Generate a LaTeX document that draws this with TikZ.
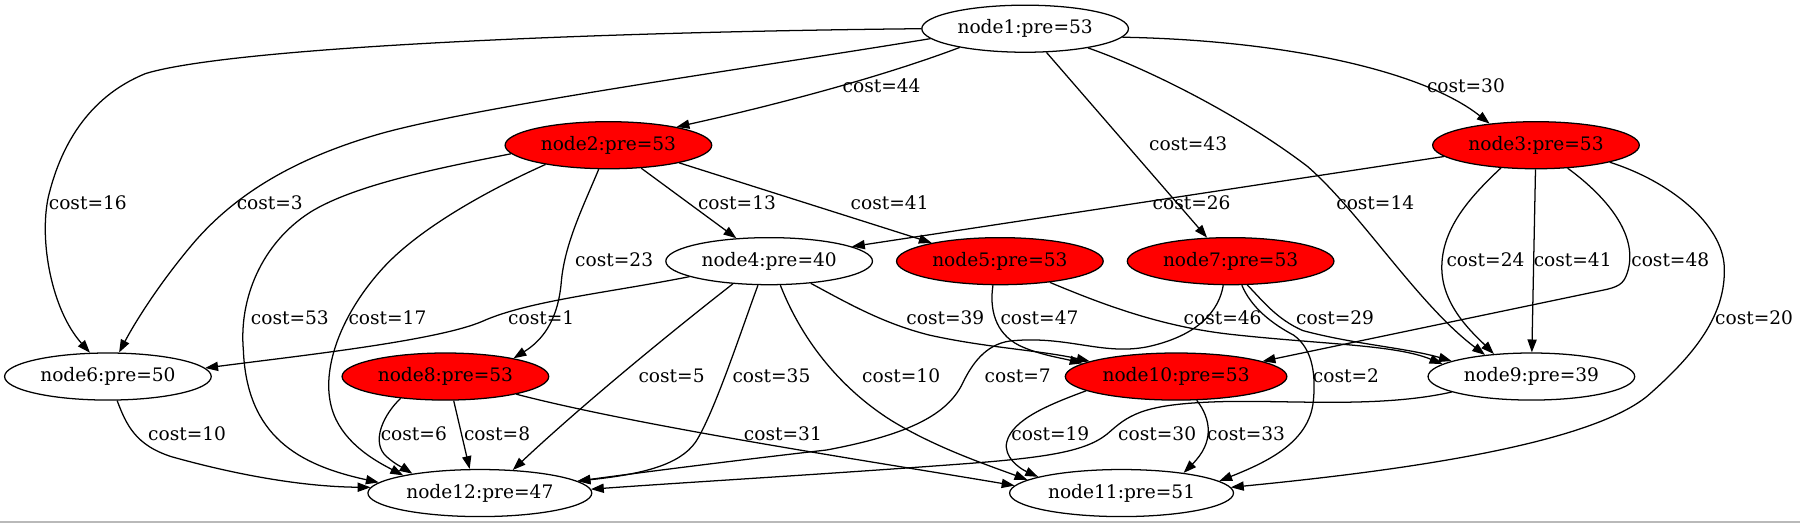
\documentclass[tikz,border=0pt]{standalone}
\usepackage{fontspec}
\usepackage{tikz}
\usetikzlibrary{shapes.geometric, arrows.meta}
\newfontfamily\gvserif{DejaVu Serif}
\newcommand{\gvfont}{\gvserif\fontsize{8.1pt}{9.7pt}\selectfont}
\tikzstyle{vert} = [ellipse, minimum width=90pt, minimum height=20.5pt, inner sep=0pt, text centered, draw=black, line width=0.55pt, font=\gvfont]
\tikzstyle{hot} = [vert, fill=red]
\tikzstyle{wide} = [minimum width=97.5pt]
\tikzstyle{cost} = [inner sep=0pt, font=\gvfont]
\tikzstyle{arrow} = [line width=0.55pt, -{Triangle[length=5.6pt, width=4pt]}]

\begin{document}
\begin{tikzpicture}[x=0.5pt, y=-0.5pt]
        \useasboundingbox (0,0) rectangle (1568,456);
        \node (n1) [vert] at (893,25) {node1:pre=53};
        \node (n2) [hot] at (530,126.5) {node2:pre=53};
        \node (n3) [hot] at (1338,126.5) {node3:pre=53};
        \node (n4) [vert] at (670,227.5) {node4:pre=40};
        \node (n5) [hot] at (871,227.5) {node5:pre=53};
        \node (n7) [hot] at (1072,227.5) {node7:pre=53};
        \node (n6) [vert] at (94,328) {node6:pre=50};
        \node (n8) [hot] at (388,328) {node8:pre=53};
        \node (n10) [hot, minimum width=96.5pt] at (1024.5,328) {node10:pre=53};
        \node (n9) [vert] at (1334,328) {node9:pre=39};
        \node (n12) [vert, wide] at (418,429.5) {node12:pre=47};
        \node (n11) [vert, wide] at (977,429.5) {node11:pre=51};

        \node (c16) [cost] at (76.5,176.5) {cost=16};
        \node (c3) [cost] at (235,176.5) {cost=3};
        \node (c44) [cost] at (768,75) {cost=44};
        \node (c43) [cost] at (1035,125.5) {cost=43};
        \node (c14) [cost] at (1198,176.5) {cost=14};
        \node (c30a) [cost] at (1277,75) {cost=30};
        \node (c53) [cost] at (252.5,277) {cost=53};
        \node (c17) [cost] at (337.5,277) {cost=17};
        \node (c23) [cost] at (535,226.5) {cost=23};
        \node (c13) [cost] at (642,176.5) {cost=13};
        \node (c41a) [cost] at (775,176.5) {cost=41};
        \node (c26) [cost] at (1038,176.5) {cost=26};
        \node (c24) [cost] at (1294,226.5) {cost=24};
        \node (c41b) [cost] at (1370,226.5) {cost=41};
        \node (c48) [cost] at (1455,226.5) {cost=48};
        \node (c20) [cost] at (1528,277) {cost=20};
        \node (c1) [cost] at (471.5,277) {cost=1};
        \node (c5) [cost] at (585,327.5) {cost=5};
        \node (c35) [cost] at (672,327.5) {cost=35};
        \node (c10a) [cost] at (785,327.5) {cost=10};
        \node (c39) [cost] at (823.5,277) {cost=39};
        \node (c47) [cost] at (905.5,277) {cost=47};
        \node (c46) [cost] at (1065,277) {cost=46};
        \node (c7) [cost] at (886.5,327.5) {cost=7};
        \node (c2) [cost] at (1172.5,327.5) {cost=2};
        \node (c29) [cost] at (1163,277) {cost=29};
        \node (c10b) [cost] at (163,377.5) {cost=10};
        \node (c6) [cost] at (360.5,377.5) {cost=6};
        \node (c8) [cost] at (433,377.5) {cost=8};
        \node (c31) [cost] at (682,377.5) {cost=31};
        \node (c19) [cost] at (915,377.5) {cost=19};
        \node (c33) [cost] at (1085.5,377.5) {cost=33};
        \node (c30b) [cost] at (1008,377.5) {cost=30};

        \draw [arrow] (n1.180) .. controls (500,28) and (200,42) .. (127,64) .. controls (75,85) and (52,130) .. (42,172) .. controls (34,210) and (45,270) .. (n6.127);
        \draw [arrow] (n1.186) .. controls (650,60) and (420,92) .. (333,116) .. controls (255,138) and (205,170) .. (170,210) .. controls (140,245) and (118,280) .. (n6.65);
        \draw [arrow] (n1.196) .. controls (760,70) and (660,95) .. (n2.15);
        \draw [arrow] (n1.312) -- (n7.135);
        \draw [arrow] (n1.343) .. controls (1000,60) and (1080,100) .. (1139,145) .. controls (1185,185) and (1235,265) .. (n9.155);
        \draw [arrow] (n1.355) .. controls (1120,35) and (1240,62) .. (n3.155);

        \draw [arrow] (n2.185) .. controls (390,145) and (310,160) .. (270,185) .. controls (228,212) and (208,260) .. (212,305) .. controls (215,380) and (260,405) .. (n12.174);
        \draw [arrow] (n2.197) .. controls (420,168) and (365,200) .. (335,232) .. controls (295,275) and (275,330) .. (293,366) .. controls (305,390) and (330,403) .. (n12.167);
        \draw [arrow] (n2.248) .. controls (508,180) and (492,212) .. (489,245) .. controls (486,282) and (470,298) .. (n8.15);
        \draw [arrow] (n2.325) -- (n4.145);
        \draw [arrow] (n2.346) -- (n5.165);

        \draw [arrow] (n3.187) -- (n4.10);
        \draw [arrow] (n3.213) .. controls (1280,172) and (1255,200) .. (1256,235) .. controls (1257,268) and (1285,292) .. (n9.149);
        \draw [arrow] (n3) -- (n9);
        \draw [arrow] (n3.324) .. controls (1395,168) and (1425,200) .. (1419,232) .. controls (1416,246) and (1412,249) .. (1400,252) -- (n10.10);
        \draw [arrow] (n3.347) .. controls (1455,158) and (1500,195) .. (1502,232) .. controls (1504,275) and (1475,310) .. (1435,345) .. controls (1380,390) and (1200,412) .. (n11.3);

        \draw [arrow] (n4.191) .. controls (530,255) and (460,262) .. (420,280) .. controls (380,297) and (260,310) .. (n6.5);
        \draw [arrow] (n4.212) .. controls (590,285) and (510,350) .. (n12.35);
        \draw [arrow] (n4.245) .. controls (645,290) and (622,360) .. (606,385) .. controls (592,405) and (560,413) .. (n12.7);
        \draw [arrow] (n4.295) .. controls (700,300) and (735,340) .. (776,366) .. controls (815,390) and (860,405) .. (n11.172);
        \draw [arrow] (n4.332) .. controls (740,265) and (770,282) .. (810,292) .. controls (860,303) and (905,305) .. (n10.170);

        \draw [arrow] (n5.254) .. controls (862,268) and (866,290) .. (888,301) .. controls (905,309) and (925,312) .. (n10.172);
        \draw [arrow] (n5.337) .. controls (960,265) and (1010,284) .. (1070,291) .. controls (1150,300) and (1215,300) .. (n9.172);

        \draw [arrow] (n7.253) .. controls (1062,270) and (1045,292) .. (1000,302) .. controls (960,310) and (930,292) .. (880,297) .. controls (858,300) and (846,318) .. (838,335) .. controls (825,360) and (795,378) .. (720,392) .. controls (650,400) and (570,410) .. (n12.7);
        \draw [arrow] (n7.295) .. controls (1090,268) and (1108,282) .. (1127,292) .. controls (1145,305) and (1146,330) .. (1144,350) .. controls (1140,385) and (1105,402) .. (n11.7);
        \draw [arrow] (n7.305) .. controls (1100,262) and (1112,278) .. (1135,288) .. controls (1180,300) and (1225,303) .. (n9.169);

        \draw [arrow] (n6.291) .. controls (110,370) and (118,388) .. (150,398) .. controls (200,412) and (260,424) .. (n12.177);

        \draw [arrow] (n8.206) .. controls (335,360) and (322,385) .. (337,398) .. controls (345,405) and (352,408) .. (n12.164);
        \draw [arrow] (n8.289) -- (n12.113);
        \draw [arrow] (n8.346) .. controls (560,372) and (760,402) .. (n11.176);

        \draw [arrow] (n10.189) .. controls (915,352) and (882,365) .. (877,385) .. controls (874,398) and (888,408) .. (n11.169);
        \draw [arrow] (n10.311) .. controls (1055,365) and (1058,385) .. (n11.18);

        \draw [arrow] (n9.191) .. controls (1200,356) and (1120,348) .. (1060,350) .. controls (1000,352) and (985,360) .. (968,375) .. controls (950,392) and (920,398) .. (840,404) .. controls (720,413) and (600,420) .. (n12.2);

        \draw [gray!55, line width=0.8pt] (0,455) -- (1568,455);
    \end{tikzpicture}
\end{document}
